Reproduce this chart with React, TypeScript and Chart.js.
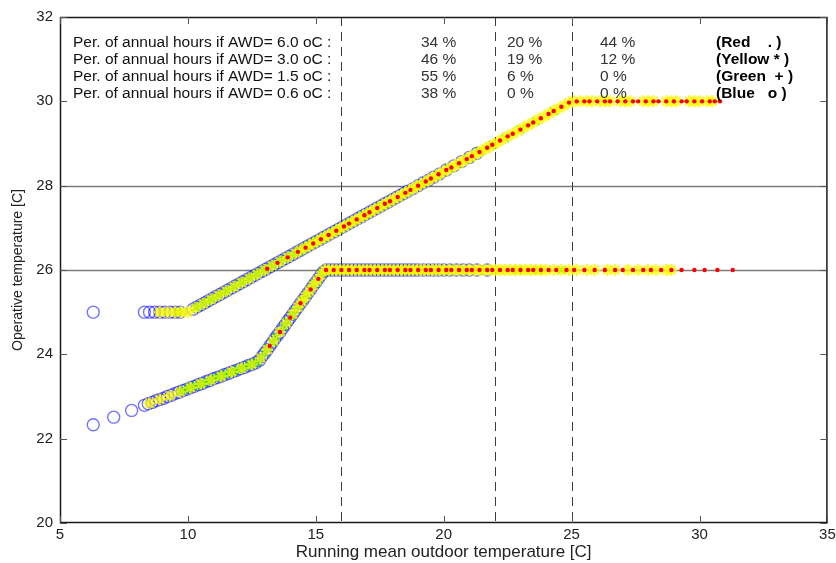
import React, { useEffect, useRef } from 'react';
import { Chart, registerables } from 'chart.js';

Chart.register(...registerables);

// ---------- data ----------
const xTickStep = 5;
const xRange = [5, 35];
const yTickStep = 2;
const yRange = [20, 32];
const dashedX = [16, 22, 25];
const solidY = [26, 28];

const rowLabels = [
  'Per. of annual hours if AWD= 6.0 oC :',
  'Per. of annual hours if AWD= 3.0 oC :',
  'Per. of annual hours if AWD= 1.5 oC :',
  'Per. of annual hours if AWD= 0.6 oC :',
];
const pctBelow16 = ['34 %', '46 %', '55 %', '38 %'];
const pct16to22 = ['20 %', '19 %', '6 %', '0 %'];
const pctAbove25 = ['44 %', '12 %', '0 %', '0 %'];
const markerLabels = ['(Red    . )', '(Yellow * )', '(Green  + )', '(Blue   o )'];

type P = [number, number];

// AWD = 0.6 oC (blue o)
const blueUpper: P[] = [
  [6.3, 25], [8.3, 25], [8.5, 25], [8.7, 25], [8.9, 25], [9.1, 25], [9.3, 25], [9.5, 25], [9.7, 25],
  [10.2, 25.07], [10.35, 25.12], [10.5, 25.17], [10.65, 25.22], [10.8, 25.27], [10.95, 25.32], [11.1, 25.37],
  [11.25, 25.42], [11.4, 25.47], [11.55, 25.52], [11.7, 25.57], [11.85, 25.62], [12.0, 25.67], [12.15, 25.72],
  [12.3, 25.77], [12.45, 25.82], [12.6, 25.87], [12.75, 25.92], [12.9, 25.97], [13.05, 26.02], [13.2, 26.07],
  [13.35, 26.12], [13.5, 26.17], [13.65, 26.22], [13.8, 26.27], [13.95, 26.32], [14.1, 26.37], [14.25, 26.42],
  [14.4, 26.47], [14.55, 26.52], [14.7, 26.57], [14.85, 26.62], [15.0, 26.67], [15.15, 26.72], [15.3, 26.77],
  [15.45, 26.82], [15.6, 26.87], [15.75, 26.92], [15.9, 26.97], [16.05, 27.02], [16.2, 27.07], [16.35, 27.12],
  [16.5, 27.17], [16.65, 27.22], [16.8, 27.27], [16.95, 27.32], [17.1, 27.37], [17.25, 27.42], [17.4, 27.47],
  [17.55, 27.52], [17.7, 27.57], [17.85, 27.62], [18.0, 27.67], [18.15, 27.72], [18.3, 27.77], [18.45, 27.82],
  [18.6, 27.87], [18.8, 27.93], [19.0, 28.0], [19.2, 28.07], [19.4, 28.13], [19.6, 28.2], [19.85, 28.28],
  [20.1, 28.37], [20.4, 28.47], [20.7, 28.57], [21.0, 28.67], [21.3, 28.77],
];
const blueLower: P[] = [
  [6.3, 22.33], [7.1, 22.51], [7.8, 22.67], [8.3, 22.79], [8.45, 22.83], [8.6, 22.86], [8.75, 22.9],
  [8.9, 22.93], [9.05, 22.96], [9.2, 23.0], [9.35, 23.03], [9.5, 23.07], [9.65, 23.1], [9.8, 23.14],
  [9.95, 23.17], [10.1, 23.21], [10.25, 23.24], [10.4, 23.28], [10.55, 23.31], [10.7, 23.35], [10.85, 23.38],
  [11.0, 23.42], [11.15, 23.45], [11.3, 23.48], [11.45, 23.52], [11.6, 23.55], [11.75, 23.59], [11.9, 23.62],
  [12.05, 23.66], [12.2, 23.69], [12.35, 23.73], [12.5, 23.76], [12.65, 23.8], [12.8, 23.86],
  [12.9, 23.95], [13.0, 24.03], [13.1, 24.11], [13.2, 24.2], [13.3, 24.28], [13.4, 24.37], [13.5, 24.45],
  [13.6, 24.53], [13.7, 24.62], [13.8, 24.7], [13.9, 24.79], [14.0, 24.87], [14.1, 24.95], [14.2, 25.04],
  [14.3, 25.12], [14.4, 25.21], [14.5, 25.29], [14.6, 25.37], [14.7, 25.46], [14.8, 25.54], [14.9, 25.63],
  [15.0, 25.71], [15.1, 25.79], [15.2, 25.88], [15.3, 25.96],
  [15.4, 26], [15.55, 26], [15.7, 26], [15.85, 26], [16.0, 26], [16.15, 26], [16.3, 26], [16.45, 26],
  [16.6, 26], [16.75, 26], [16.9, 26], [17.05, 26], [17.2, 26], [17.35, 26], [17.5, 26], [17.65, 26],
  [17.8, 26], [17.95, 26], [18.1, 26], [18.25, 26], [18.4, 26], [18.55, 26], [18.7, 26], [18.85, 26],
  [19.0, 26], [19.2, 26], [19.4, 26], [19.6, 26], [19.8, 26], [20.0, 26], [20.25, 26], [20.5, 26],
  [20.75, 26], [21.0, 26], [21.3, 26], [21.7, 26],
];

// AWD = 1.5 oC (green +)
const greenUpper: P[] = [
  [9.6, 25], [10.3, 25.1], [10.45, 25.15], [10.6, 25.2], [10.75, 25.25], [10.9, 25.3], [11.05, 25.35],
  [11.2, 25.4], [11.35, 25.45], [11.5, 25.5], [11.65, 25.55], [11.8, 25.6], [11.95, 25.65], [12.1, 25.7],
  [12.25, 25.75], [12.4, 25.8], [12.55, 25.85], [12.7, 25.9], [12.85, 25.95], [13.0, 26.0], [13.15, 26.05],
  [13.3, 26.1], [13.45, 26.15], [13.6, 26.2], [13.75, 26.25], [13.9, 26.3], [14.05, 26.35], [14.2, 26.4],
  [14.35, 26.45], [14.5, 26.5], [14.65, 26.55], [14.8, 26.6], [14.95, 26.65], [15.1, 26.7], [15.3, 26.77],
  [15.5, 26.83], [15.7, 26.9], [15.9, 26.97], [16.1, 27.03], [16.3, 27.1], [16.5, 27.17], [16.7, 27.23],
  [16.9, 27.3], [17.1, 27.37], [17.3, 27.43], [17.5, 27.5], [17.7, 27.57], [17.9, 27.63], [18.2, 27.73],
  [18.5, 27.83], [18.8, 27.93], [19.1, 28.03], [19.4, 28.13], [19.8, 28.27], [20.2, 28.4], [20.6, 28.53],
  [21.0, 28.67], [21.4, 28.8], [21.9, 28.97], [22.4, 29.13], [23.0, 29.33], [23.6, 29.53], [24.3, 29.77],
];
const greenLower: P[] = [
  [9.7, 23.11], [9.85, 23.15], [10.0, 23.18], [10.15, 23.22], [10.3, 23.25], [10.45, 23.29], [10.6, 23.32],
  [10.75, 23.36], [10.9, 23.39], [11.05, 23.43], [11.2, 23.46], [11.35, 23.5], [11.5, 23.53], [11.65, 23.57],
  [11.8, 23.6], [11.95, 23.64], [12.1, 23.67], [12.25, 23.71], [12.4, 23.74], [12.55, 23.78], [12.7, 23.81],
  [12.85, 23.91], [13.0, 24.03], [13.15, 24.16], [13.3, 24.28], [13.45, 24.41], [13.6, 24.53], [13.75, 24.66],
  [13.9, 24.79], [14.05, 24.91], [14.2, 25.04], [14.35, 25.16], [14.5, 25.29], [14.65, 25.42], [14.8, 25.54],
  [14.95, 25.67], [15.1, 25.79], [15.25, 25.92], [15.45, 26], [15.7, 26], [15.95, 26], [16.2, 26],
  [16.45, 26], [16.7, 26], [16.95, 26], [17.2, 26], [17.5, 26], [17.8, 26], [18.1, 26], [18.4, 26],
  [18.7, 26], [19.0, 26], [19.4, 26], [19.8, 26], [20.2, 26], [20.6, 26], [21.0, 26], [21.6, 26],
  [22.2, 26], [22.9, 26], [23.7, 26], [24.6, 26],
];

// AWD = 3.0 oC (yellow *)
const yellowUpper: P[] = [
  [8.9, 25], [9.2, 25], [9.5, 25], [9.75, 25], [10.0, 25.0], [10.3, 25.1], [10.6, 25.2], [10.9, 25.3],
  [11.2, 25.4], [11.5, 25.5], [11.8, 25.6], [12.1, 25.7], [12.4, 25.8], [12.7, 25.9], [13.0, 26.0],
  [13.3, 26.1], [13.6, 26.2], [13.9, 26.3], [14.2, 26.4], [14.4, 26.47], [14.6, 26.53], [14.75, 26.58],
  [14.9, 26.63], [15.05, 26.68], [15.2, 26.73], [15.35, 26.78], [15.5, 26.83], [15.65, 26.88], [15.8, 26.93],
  [15.95, 26.98], [16.1, 27.03], [16.25, 27.08], [16.4, 27.13], [16.55, 27.18], [16.7, 27.23], [16.85, 27.28],
  [17.0, 27.33], [17.15, 27.38], [17.3, 27.43], [17.45, 27.48], [17.6, 27.53], [17.75, 27.58], [17.9, 27.63],
  [18.05, 27.68], [18.2, 27.73], [18.35, 27.78], [18.5, 27.83], [18.65, 27.88], [18.8, 27.93], [18.95, 27.98],
  [19.1, 28.03], [19.25, 28.08], [19.4, 28.13], [19.55, 28.18], [19.7, 28.23], [19.85, 28.28], [20.0, 28.33],
  [20.15, 28.38], [20.3, 28.43], [20.45, 28.48], [20.6, 28.53], [20.75, 28.58], [20.9, 28.63], [21.05, 28.68],
  [21.2, 28.73], [21.35, 28.78], [21.5, 28.83], [21.65, 28.88], [21.8, 28.93], [21.95, 28.98], [22.1, 29.03],
  [22.3, 29.1], [22.5, 29.17], [22.7, 29.23], [22.9, 29.3], [23.1, 29.37], [23.3, 29.43], [23.5, 29.5],
  [23.7, 29.57], [23.9, 29.63], [24.1, 29.7], [24.3, 29.77], [24.5, 29.83], [24.7, 29.9], [24.9, 29.97],
  [25.1, 30], [25.35, 30], [25.6, 30], [25.8, 30], [26.1, 30], [26.3, 30], [26.5, 30], [26.9, 30],
  [27.1, 30], [27.3, 30], [27.8, 30], [28.0, 30], [28.2, 30], [28.7, 30], [28.9, 30], [29.1, 30],
  [29.6, 30], [29.8, 30], [30.0, 30], [30.3, 30], [30.5, 30],
];
const yellowLower: P[] = [
  [8.5, 22.84], [8.9, 22.93], [9.3, 23.02], [9.7, 23.11], [10.1, 23.21], [10.5, 23.3], [10.9, 23.39],
  [11.3, 23.48], [11.7, 23.58], [12.1, 23.67], [12.5, 23.76], [12.85, 23.91], [13.1, 24.11], [13.35, 24.32],
  [13.6, 24.53], [13.85, 24.74], [14.1, 24.95], [14.3, 25.12], [14.45, 25.25], [14.6, 25.37], [14.75, 25.5],
  [14.9, 25.63], [15.05, 25.75], [15.2, 25.88], [15.35, 26], [15.5, 26], [15.65, 26], [15.8, 26],
  [15.95, 26], [16.1, 26], [16.25, 26], [16.4, 26], [16.55, 26], [16.7, 26], [16.85, 26], [17.0, 26],
  [17.15, 26], [17.3, 26], [17.45, 26], [17.6, 26], [17.75, 26], [17.9, 26], [18.05, 26], [18.2, 26],
  [18.35, 26], [18.5, 26], [18.65, 26], [18.8, 26], [18.95, 26], [19.1, 26], [19.25, 26], [19.4, 26],
  [19.55, 26], [19.7, 26], [19.85, 26], [20.0, 26], [20.2, 26], [20.4, 26], [20.6, 26], [20.8, 26],
  [21.0, 26], [21.2, 26], [21.4, 26], [21.6, 26], [21.8, 26], [22.0, 26], [22.2, 26], [22.4, 26],
  [22.6, 26], [22.8, 26], [23.0, 26], [23.2, 26], [23.4, 26], [23.6, 26], [23.8, 26], [24.0, 26],
  [24.3, 26], [24.6, 26], [24.9, 26], [25.2, 26], [25.6, 26], [25.9, 26], [26.4, 26], [26.7, 26],
  [27.2, 26], [27.6, 26], [28.0, 26], [28.3, 26], [28.7, 26], [28.9, 26],
];

// AWD = 6.0 oC (red .)
const redUpper: P[] = [
  [13.1, 26.03], [13.5, 26.17], [13.9, 26.3], [14.3, 26.43], [14.6, 26.53], [14.9, 26.63], [15.2, 26.73],
  [15.5, 26.83], [15.8, 26.93], [16.1, 27.03], [16.3, 27.1], [16.6, 27.2], [16.9, 27.3], [17.1, 27.37],
  [17.4, 27.47], [17.7, 27.57], [17.9, 27.63], [18.2, 27.73], [18.5, 27.83], [18.7, 27.9], [19.0, 28.0],
  [19.3, 28.1], [19.5, 28.17], [19.8, 28.27], [20.1, 28.37], [20.3, 28.43], [20.6, 28.53], [20.9, 28.63],
  [21.1, 28.7], [21.4, 28.8], [21.7, 28.9], [21.9, 28.97], [22.2, 29.07], [22.5, 29.17], [22.7, 29.23],
  [23.0, 29.33], [23.3, 29.43], [23.5, 29.5], [23.8, 29.6], [24.1, 29.7], [24.3, 29.77], [24.6, 29.87],
  [24.9, 29.97], [25.2, 30], [25.5, 30], [25.7, 30], [26.0, 30], [26.3, 30], [26.5, 30], [26.8, 30],
  [27.1, 30], [27.4, 30], [27.6, 30], [27.9, 30], [28.2, 30], [28.4, 30], [28.7, 30], [29.0, 30],
  [29.3, 30], [29.5, 30], [29.8, 30], [30.1, 30], [30.4, 30], [30.6, 30], [30.8, 30],
];
const redLower: P[] = [
  [13.2, 24.2], [13.6, 24.53], [14.0, 24.87], [14.4, 25.21], [14.8, 25.54], [15.1, 25.79], [15.4, 26],
  [15.7, 26], [16.0, 26], [16.3, 26], [16.6, 26], [16.9, 26], [17.1, 26], [17.4, 26], [17.7, 26],
  [17.9, 26], [18.2, 26], [18.5, 26], [18.7, 26], [19.0, 26], [19.3, 26], [19.5, 26], [19.8, 26],
  [20.1, 26], [20.3, 26], [20.6, 26], [20.9, 26], [21.1, 26], [21.4, 26], [21.7, 26], [21.9, 26],
  [22.2, 26], [22.5, 26], [22.7, 26], [23.0, 26], [23.3, 26], [23.5, 26], [23.8, 26], [24.1, 26],
  [24.4, 26], [24.8, 26], [25.1, 26], [25.5, 26], [25.9, 26], [26.3, 26], [26.7, 26], [27.0, 26],
  [27.4, 26], [27.8, 26], [28.1, 26], [28.5, 26], [28.9, 26], [29.3, 26], [29.8, 26], [30.2, 26],
  [30.7, 26], [31.3, 26],
];

const toXY = (pts: P[]) => pts.map(([x, y]) => ({ x, y }));

const FONT = '"Liberation Sans", Arial, Helvetica, sans-serif';

const overlayPlugin = {
  id: 'overlay',
  beforeDatasetsDraw(chart: any) {
    const { ctx, chartArea: a, scales } = chart;
    const xs = scales.x;
    const ys = scales.y;
    ctx.save();
    ctx.strokeStyle = '#7c7c7c';
    ctx.lineWidth = 1.4;
    solidY.forEach((v) => {
      const py = Math.round(ys.getPixelForValue(v)) + 0.5;
      ctx.beginPath();
      ctx.moveTo(a.left, py);
      ctx.lineTo(a.right, py);
      ctx.stroke();
    });
    ctx.strokeStyle = '#3c3c3c';
    ctx.lineWidth = 1;
    ctx.setLineDash([9, 6]);
    dashedX.forEach((v) => {
      const px = Math.round(xs.getPixelForValue(v)) + 0.5;
      ctx.beginPath();
      ctx.moveTo(px, a.top);
      ctx.lineTo(px, a.bottom);
      ctx.stroke();
    });
    ctx.restore();
  },
  afterDatasetsDraw(chart: any) {
    const { ctx, chartArea: a, scales } = chart;
    const xs = scales.x;
    const ys = scales.y;
    ctx.save();
    // frame
    ctx.strokeStyle = '#1a1a1a';
    ctx.lineWidth = 1.5;
    ctx.strokeRect(a.left + 0.5, a.top + 0.5, a.right - a.left - 1, a.bottom - a.top - 1);
    // inward tick marks on all four sides
    ctx.lineWidth = 1;
    ctx.strokeStyle = '#555';
    const tl = 7;
    for (let v = xRange[0]; v <= xRange[1]; v += xTickStep) {
      const px = Math.round(xs.getPixelForValue(v)) + 0.5;
      ctx.beginPath();
      ctx.moveTo(px, a.bottom);
      ctx.lineTo(px, a.bottom - tl);
      ctx.moveTo(px, a.top);
      ctx.lineTo(px, a.top + tl);
      ctx.stroke();
    }
    for (let v = yRange[0]; v <= yRange[1]; v += yTickStep) {
      const py = Math.round(ys.getPixelForValue(v)) + 0.5;
      ctx.beginPath();
      ctx.moveTo(a.left, py);
      ctx.lineTo(a.left + tl, py);
      ctx.moveTo(a.right, py);
      ctx.lineTo(a.right - tl, py);
      ctx.stroke();
    }
    // annotation table
    ctx.textBaseline = 'middle';
    ctx.textAlign = 'left';
    const rowY = (i: number) => a.top + 26 + i * 17;
    rowLabels.forEach((t, i) => {
      ctx.font = `15.5px ${FONT}`;
      ctx.fillStyle = '#111';
      ctx.fillText(t, a.left + 13, rowY(i));
      ctx.fillStyle = '#333';
      ctx.fillText(pctBelow16[i], a.left + 361, rowY(i));
      ctx.fillText(pct16to22[i], a.left + 447, rowY(i));
      ctx.fillText(pctAbove25[i], a.left + 540, rowY(i));
      ctx.font = `bold 15.5px ${FONT}`;
      ctx.fillStyle = '#000';
      ctx.fillText(markerLabels[i], a.left + 656, rowY(i));
    });
    ctx.restore();
  },
};

export default function App() {
  const canvasRef = useRef<HTMLCanvasElement | null>(null);

  useEffect(() => {
    const canvas = canvasRef.current;
    if (!canvas) return;
    const chart = new Chart(canvas, {
      type: 'scatter',
      data: {
        datasets: [
          {
            label: 'AWD 6.0 (Red .)',
            data: [...toXY(redUpper), ...toXY(redLower)],
            pointStyle: 'circle',
            pointRadius: 2.2,
            pointBackgroundColor: '#ff0000',
            pointBorderColor: '#ff0000',
            pointBorderWidth: 0,
          },
          {
            label: 'AWD 3.0 (Yellow *)',
            data: [...toXY(yellowUpper), ...toXY(yellowLower)],
            pointStyle: 'star',
            pointRadius: 6,
            pointBorderColor: 'rgba(250,250,0,0.75)',
            pointBackgroundColor: 'rgba(250,250,0,0.75)',
            pointBorderWidth: 2.6,
          },
          {
            label: 'AWD 1.5 (Green +)',
            data: [...toXY(greenUpper), ...toXY(greenLower)],
            pointStyle: 'crossRot',
            pointRadius: 5.2,
            pointBorderColor: 'rgba(0,215,0,0.85)',
            pointBorderWidth: 2,
          },
          {
            label: 'AWD 0.6 (Blue o)',
            data: [...toXY(blueUpper), ...toXY(blueLower)],
            pointStyle: 'circle',
            pointRadius: 6,
            pointBackgroundColor: 'rgba(0,0,0,0)',
            pointBorderColor: 'rgba(0,0,255,0.55)',
            pointBorderWidth: 1.4,
          },
        ],
      },
      options: {
        animation: false,
        responsive: false,
        maintainAspectRatio: false,
        layout: { padding: { top: 17, right: 5, left: 0, bottom: 0 } },
        plugins: {
          legend: { display: false },
          tooltip: { enabled: false },
        },
        scales: {
          x: {
            type: 'linear',
            min: xRange[0],
            max: xRange[1],
            ticks: { stepSize: xTickStep, color: '#222', font: { family: FONT, size: 15 }, padding: 3, maxRotation: 0 },
            grid: { display: false, drawTicks: false },
            border: { display: false },
            title: {
              display: true,
              text: 'Running mean outdoor temperature [C]',
              color: '#222',
              font: { family: FONT, size: 17 },
              padding: { top: 0, bottom: 0 },
            },
            afterFit: (s: any) => {
              s.height = 40;
              s.paddingLeft = 0;
              s.paddingRight = 0;
            },
          },
          y: {
            type: 'linear',
            min: yRange[0],
            max: yRange[1],
            ticks: { stepSize: yTickStep, color: '#222', font: { family: FONT, size: 15 }, padding: 7 },
            grid: { display: false, drawTicks: false },
            border: { display: false },
            title: {
              display: true,
              text: 'Operative temperature [C]',
              color: '#222',
              font: { family: FONT, size: 14 },
              padding: { top: 10, bottom: 0 },
            },
            afterFit: (s: any) => {
              s.width = 60;
              s.paddingTop = 0;
              s.paddingBottom = 0;
            },
          },
        },
      },
      plugins: [overlayPlugin],
    });
    return () => chart.destroy();
  }, []);

  return (
    <div style={{ position: 'fixed', left: 0, top: 0, width: 836, height: 563, background: '#fff' }}>
      <canvas ref={canvasRef} width={836} height={563} style={{ width: 836, height: 563 }} />
    </div>
  );
}
